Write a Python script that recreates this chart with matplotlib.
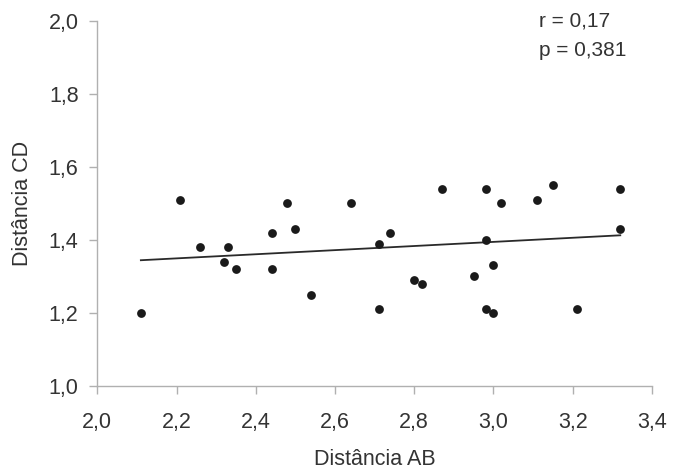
import numpy as np
import matplotlib
matplotlib.use("Agg")
import matplotlib.pyplot as plt
from matplotlib.ticker import FuncFormatter

# -------------------------
# DATA
# -------------------------

dist_ab = [2.11, 2.21, 2.26, 2.32, 2.33, 2.35, 2.44, 2.44, 2.48, 2.50,
           2.54, 2.64, 2.71, 2.74, 2.71, 2.80, 2.82, 2.87, 2.95, 2.98,
           2.98, 2.98, 3.00, 3.00, 3.02, 3.11, 3.15, 3.21, 3.32, 3.32]
dist_cd = [1.20, 1.51, 1.38, 1.34, 1.38, 1.32, 1.42, 1.32, 1.50, 1.43,
           1.25, 1.50, 1.39, 1.42, 1.21, 1.29, 1.28, 1.54, 1.30, 1.54,
           1.40, 1.21, 1.33, 1.20, 1.50, 1.51, 1.55, 1.21, 1.54, 1.43]

x_ticks = [2.0, 2.2, 2.4, 2.6, 2.8, 3.0, 3.2, 3.4]
y_ticks = [1.0, 1.2, 1.4, 1.6, 1.8, 2.0]

stats_text = "r = 0,17\np = 0,381"

# -------------------------
# PLOT
# -------------------------

plt.rcParams["font.family"] = ["Liberation Sans", "DejaVu Sans"]

fig = plt.figure(figsize=(6.86, 4.71), dpi=100)
ax = fig.add_axes([0.1418, 0.1805, 0.9504 - 0.1418, 0.956 - 0.1805])

ax.scatter(dist_ab, dist_cd, s=40, color="#1a1a1a", linewidths=0, zorder=3)

# regression line over the data range
slope, intercept = np.polyfit(dist_ab, dist_cd, 1)
xs = np.array([min(dist_ab), max(dist_ab)])
ax.plot(xs, slope * xs + intercept, color="#2a2a2a", linewidth=1.3, zorder=2)

ax.set_xlim(2.0, 3.4)
ax.set_ylim(1.0, 2.0)
ax.set_xticks(x_ticks)
ax.set_yticks(y_ticks)
fmt = FuncFormatter(lambda v, _: f"{v:.1f}".replace(".", ","))
ax.xaxis.set_major_formatter(fmt)
ax.yaxis.set_major_formatter(fmt)

for s in ["top", "right"]:
    ax.spines[s].set_visible(False)
for s in ["left", "bottom"]:
    ax.spines[s].set_color("#b0b0b0")
    ax.spines[s].set_linewidth(1.0)

ax.tick_params(direction="out", length=5.5, width=1.0, color="#b0b0b0",
               labelsize=15.5, labelcolor="#333333")
ax.tick_params(axis="x", pad=13)
ax.tick_params(axis="y", pad=8)

ax.set_xlabel("Distância AB", fontsize=15.5, color="#333333", labelpad=12)
ax.set_ylabel("Distância CD", fontsize=15.5, color="#333333", labelpad=11)

ax.text(0.796, 1.024, stats_text, transform=ax.transAxes, fontsize=15,
        color="#333333", va="top", ha="left", linespacing=1.7)

fig.savefig("out.png", dpi=100)
